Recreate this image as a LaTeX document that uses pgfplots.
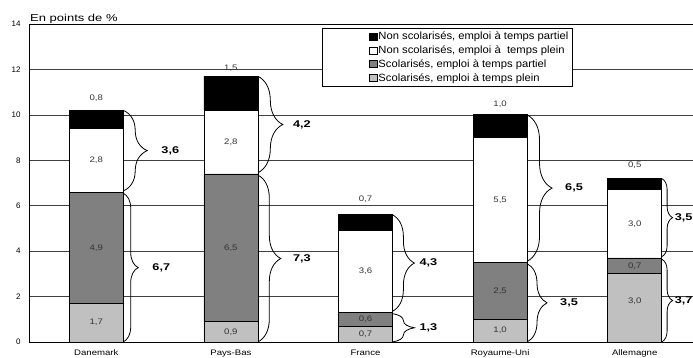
\documentclass[border=0pt]{standalone}
\usepackage{fontspec}
\setmainfont{Liberation Sans}
\usepackage{pgfplots}
\pgfplotsset{compat=1.18}
\usepackage{pgfplotstable}
\usetikzlibrary{decorations.pathreplacing}

\definecolor{lightbar}{HTML}{C0C0C0}
\definecolor{darkbar}{HTML}{808080}
\definecolor{valtext}{HTML}{333333}

% horizontally widened text
\newcommand{\wide}[2][1.2]{\scalebox{#1}[1]{#2}}

% shares per country: scolarises plein / partiel, non scolarises plein / partiel
\pgfplotstableread{
x sp spart np npart
0 1.7 4.9 2.8 0.8
1 0.9 6.5 2.8 1.5
2 0.7 0.6 3.6 0.7
3 1.0 2.5 5.5 1.0
4 3.0 0.7 3.0 0.5
}\shares

% value labels printed on and above the bars
\pgfplotstableread{
x y lab
0 0.85 1,7
0 4.15 4,9
0 8.0 2,8
0 10.75 0,8
1 0.45 0,9
1 4.15 6,5
1 8.8 2,8
1 12.05 1,5
2 0.35 0,7
2 1.02 0,6
2 3.1 3,6
2 6.3 0,7
3 0.5 1,0
3 2.25 2,5
3 6.25 5,5
3 10.45 1,0
4 1.8 3,0
4 3.35 0,7
4 5.2 3,0
4 7.8 0,5
}\labels

% brace: x, top, bottom, amplitude, gap, text
\newcommand{\sumbrace}[6]{%
  \draw[decorate, decoration={brace, amplitude=#4pt}, line width=0.8pt]
    (axis cs:#1,#2) -- (axis cs:#1,#3);
  \path (axis cs:#1,#2) -- (axis cs:#1,#3)
    node[midway, anchor=west, xshift=#4pt+#5pt, inner sep=0pt,
         font=\fontsize{9.8}{11}\selectfont\bfseries] {\wide[1.3]{#6}};
}

\pgfplotsset{
  common frame/.style={
    at={(29pt,16pt)}, anchor=south west,
    scale only axis,
    width=673pt, height=318pt,
    xmin=-0.5, xmax=4.5,
    ymin=0, ymax=14,
    clip=false,
  },
}

\begin{document}
\begin{tikzpicture}
\begin{axis}[
  common frame,
  ybar stacked,
  bar width=54pt,
  legend image code/.code={%
    \path (-44pt,0pt);
    \draw[#1, line width=0.5pt] (0pt,-3.5pt) rectangle (8pt,3.5pt);},
  axis line style={black, line width=0.8pt},
  ytick={0,2,...,14},
  ymajorgrids,
  major grid style={black!75, line width=0.6pt},
  ytick style={draw=none},
  yticklabel style={font=\fontsize{8}{9}\selectfont, xshift=-5pt},
  /pgf/number format/assume math mode=true,
  xtick={0,1,2,3,4},
  xticklabels={\wide{Danemark},\wide{Pays-Bas},\wide{France},\wide{Royaume-Uni},\wide{Allemagne}},
  xticklabel style={font=\fontsize{8}{9}\selectfont, yshift=-4pt},
  xtick style={draw=none},
  extra x ticks={0.5,1.5,2.5,3.5},
  extra x tick labels={},
  extra x tick style={tick style={draw=black, line width=0.6pt}, major tick length=4pt, tick align=inside},
  tick pos=left,
  reverse legend,
  legend cell align=left,
  legend style={at={(0.807,0.987)}, anchor=north east, draw=black, line width=0.6pt,
    font=\fontsize{10.5}{12}\selectfont, row sep=2.6pt, inner sep=2.5pt,
    nodes={inner sep=1pt}},
]
\addplot[fill=lightbar, draw=black, line width=0.8pt] table[x=x, y=sp] {\shares};
\addlegendentry{\wide[1.07]{Scolarisés, emploi à temps plein}}
\addplot[fill=darkbar, draw=black, line width=0.8pt] table[x=x, y=spart] {\shares};
\addlegendentry{\wide[1.07]{Scolarisés, emploi à temps partiel}}
\addplot[fill=white, draw=black, line width=0.8pt] table[x=x, y=np] {\shares};
\addlegendentry{\wide[1.07]{Non scolarisés, emploi à\ \ temps plein}}
\addplot[fill=black, draw=black, line width=0.8pt] table[x=x, y=npart] {\shares};
\addlegendentry{\wide[1.07]{Non scolarisés, emploi à temps partiel}}

\node[anchor=base west, inner sep=0pt, font=\fontsize{10}{12}\selectfont]
  at (rel axis cs:0,1) [xshift=1pt, yshift=2.5pt] {\wide[1.3]{En points de \%}};

\sumbrace{0.2}{10.2}{6.65}{24}{14}{3,6}
\sumbrace{0.2}{6.55}{0}{15}{14}{6,7}
\sumbrace{1.2}{11.7}{7.45}{25}{10}{4,2}
\sumbrace{1.2}{7.35}{0}{23}{12}{7,3}
\sumbrace{2.2}{5.6}{1.35}{22}{5}{4,3}
\sumbrace{2.2}{1.25}{0}{22}{5}{1,3}
\sumbrace{3.2}{10.0}{3.55}{25}{13}{6,5}
\sumbrace{3.2}{3.45}{0}{20}{13}{3,5}
\sumbrace{4.2}{7.2}{3.75}{11}{2}{3,5}
\sumbrace{4.2}{3.65}{0}{11}{2}{3,7}
\end{axis}

% value labels on a plain overlay with the same frame
\begin{axis}[common frame, hide axis]
\addplot[only marks, mark=none, nodes near coords, point meta=explicit symbolic,
  every node near coord/.style={anchor=center, text=valtext,
    font=\fontsize{8}{9}\selectfont},
  nodes near coords={\wide{\pgfplotspointmeta}}]
  table[x=x, y=y, meta=lab] {\labels};
\end{axis}
\pgfresetboundingbox
\useasboundingbox (0,0) rectangle (693pt,358pt);
\end{tikzpicture}
\end{document}
